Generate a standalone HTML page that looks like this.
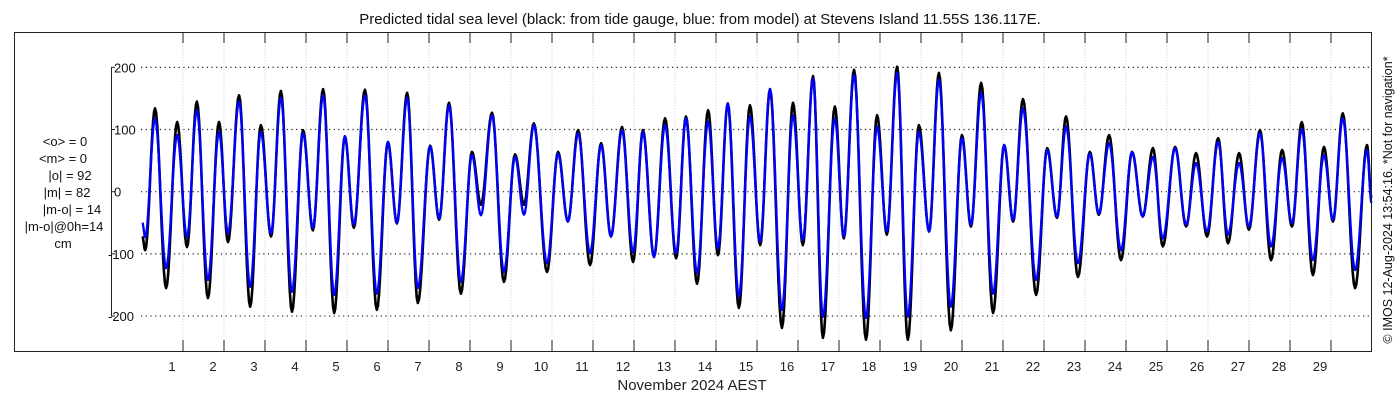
<!DOCTYPE html>
<html><head><meta charset="utf-8"><style>
html,body{margin:0;padding:0;background:#fff;}
svg{display:block;font-family:"Liberation Sans","DejaVu Sans",sans-serif;}
</style></head><body>
<svg id="chart" width="1400" height="400" viewBox="0 0 1400 400" xmlns="http://www.w3.org/2000/svg">
<rect x="0" y="0" width="1400" height="400" fill="#fff"/>
<text x="700" y="24" text-anchor="middle" font-size="15" fill="#111">Predicted tidal sea level (black: from tide gauge, blue: from model) at Stevens Island 11.55S 136.117E.</text>
<g id="grid"></g>
<g id="series"></g>
<rect x="14.5" y="32.5" width="1357" height="319" fill="none" stroke="#222" stroke-width="1"/>
<g id="axes"></g>
<g font-size="13" fill="#111" text-anchor="middle">
<text x="65" y="146">&lt;o&gt; = 0</text>
<text x="63" y="163">&lt;m&gt; = 0</text>
<text x="70" y="180">|o| = 92</text>
<text x="67" y="197">|m| = 82</text>
<text x="72" y="214">|m-o| = 14</text>
<text x="64" y="231">|m-o|@0h=14</text>
<text x="63" y="248">cm</text>
</g>
<text x="692" y="390" text-anchor="middle" font-size="15" fill="#222">November 2024 AEST</text>
<text transform="translate(1392,200) rotate(-90)" text-anchor="middle" font-size="12.5" fill="#111">© IMOS 12-Aug-2024 13:54:16. *Not for navigation*</text>
</svg>
<script>
const extremeDays = [0.02,0.09,0.33,0.60,0.87,1.11,1.35,1.62,1.89,2.11,2.38,2.65,2.91,3.16,3.40,3.67,3.94,4.18,4.43,4.70,4.96,5.18,5.45,5.74,6.01,6.23,6.48,6.74,7.04,7.26,7.50,7.79,8.06,8.28,8.55,8.84,9.11,9.33,9.57,9.89,10.16,10.40,10.65,10.94,11.21,11.45,11.72,11.99,12.23,12.50,12.77,13.04,13.28,13.55,13.82,14.06,14.30,14.57,14.84,15.09,15.33,15.62,15.89,16.13,16.38,16.62,16.91,17.13,17.38,17.67,17.94,18.18,18.43,18.69,18.96,19.21,19.45,19.74,20.01,20.23,20.48,20.77,21.04,21.26,21.50,21.82,22.09,22.33,22.55,22.84,23.13,23.35,23.60,23.89,24.16,24.42,24.67,24.91,25.21,25.48,25.72,25.99,26.26,26.50,26.77,27.01,27.28,27.55,27.82,28.06,28.30,28.57,28.84,29.06,29.30,29.60,29.89,30.0];
const observedCm = [-72,-94,134,-155,112,-89,145,-171,112,-81,155,-185,107,-72,162,-193,99,-62,165,-195,89,-58,164,-190,80,-51,159,-179,74,-45,143,-164,64,-21,127,-145,60,-21,110,-129,64,-48,99,-118,78,-72,104,-113,99,-105,118,-107,121,-148,131,-102,142,-187,139,-86,165,-219,143,-86,186,-235,137,-75,196,-238,123,-69,201,-238,107,-64,191,-223,91,-56,175,-195,75,-48,149,-166,70,-42,121,-137,64,-37,91,-110,64,-40,70,-88,72,-56,62,-72,86,-83,62,-61,99,-110,67,-56,112,-134,72,-48,126,-155,75,-10];
const modelCm = [-50,-73,118,-123,91,-73,131,-142,96,-67,145,-153,96,-67,151,-161,94,-58,155,-166,89,-53,155,-164,80,-50,151,-155,73,-43,139,-145,59,-38,123,-129,56,-37,107,-115,61,-48,94,-99,75,-72,99,-97,96,-105,107,-99,118,-131,113,-91,142,-169,121,-80,165,-190,123,-78,182,-201,118,-72,188,-203,105,-64,191,-201,96,-64,180,-185,86,-53,159,-164,75,-45,134,-142,67,-40,105,-115,61,-35,78,-94,64,-40,56,-75,70,-53,46,-64,80,-69,46,-56,94,-88,54,-51,101,-110,59,-45,118,-126,67,-18];
const yTicks = [200,100,0,-100,-200];
const dayTicks = [1,2,3,4,5,6,7,8,9,10,11,12,13,14,15,16,17,18,19,20,21,22,23,24,25,26,27,28,29];

const NS = "http://www.w3.org/2000/svg";
const X0 = 141.5, DAYPX = 41.0, Y0 = 191.7, CMPX = 0.6218;
function xScale(d){ return X0 + d * DAYPX; }
function yScale(v){ return Y0 - v * CMPX; }
function mk(tag, attrs, parent){ const e = document.createElementNS(NS, tag); for (const k in attrs) e.setAttribute(k, attrs[k]); parent.appendChild(e); return e; }

const grid = document.getElementById('grid');
const axes = document.getElementById('axes');
const series = document.getElementById('series');

yTicks.forEach(v => {
  const y = yScale(v);
  const l = mk('line', {x1: 141, x2: 1371, y1: y, y2: y, stroke: '#222', 'stroke-width': 1.2, 'stroke-dasharray': '1.2,3.5'}, grid);
  
  
  const t = mk('text', {x: v < 0 ? 108 : 114, y: y + 5, 'font-size': 13, fill: '#111'}, axes);
  t.textContent = String(v);
  
  
  const tk = mk('line', {x1: 111, x2: 115, y1: y, y2: y, stroke: '#222', 'stroke-width': 1}, axes);
  
  
});
const spine = mk('line', {x1: 111.5, x2: 111.5, y1: yScale(200), y2: yScale(-200), stroke: '#222', 'stroke-width': 1}, axes);



dayTicks.forEach(d => {
  const x = xScale(d) + 0.5;
  const g = mk('line', {x1: x, x2: x, y1: 33, y2: 351, stroke: '#d6ddf3', 'stroke-width': 1, 'stroke-dasharray': '1.5,1.5'}, grid);
  
  
  const t1 = mk('line', {x1: x, x2: x, y1: 32, y2: 43, stroke: '#222', 'stroke-width': 1}, axes);
  
  
  const t2 = mk('line', {x1: x, x2: x, y1: 340, y2: 351, stroke: '#222', 'stroke-width': 1}, axes);
  
  
  const lb = mk('text', {x: x - 11, y: 371, 'text-anchor': 'middle', 'font-size': 13, fill: '#222'}, axes);
  lb.textContent = String(d);
  
  
});

function buildPath(days, vals){
  const n = Math.min(days.length, vals.length);
  let d = '';
  for (let i = 0; i < n - 1; i++) {
    const steps = 10;
    for (let s = (i === 0 ? 0 : 1); s <= steps; s++) {
      const f = s / steps;
      const w = (1 - Math.cos(Math.PI * f)) / 2;
      const t = days[i] + (days[i+1] - days[i]) * f;
      const v = vals[i] + (vals[i+1] - vals[i]) * w;
      d += (d === '' ? 'M' : 'L') + xScale(t).toFixed(2) + ',' + yScale(v).toFixed(2);
    }
  }
  return d;
}
const obs = mk('path', {d: buildPath(extremeDays, observedCm), fill: 'none', stroke: '#000', 'stroke-width': 2.6, 'stroke-linejoin': 'round'}, series);


const mod = mk('path', {d: buildPath(extremeDays, modelCm), fill: 'none', stroke: '#0000ff', 'stroke-width': 2.3, 'stroke-linejoin': 'round'}, series);


</script>
</body></html>
